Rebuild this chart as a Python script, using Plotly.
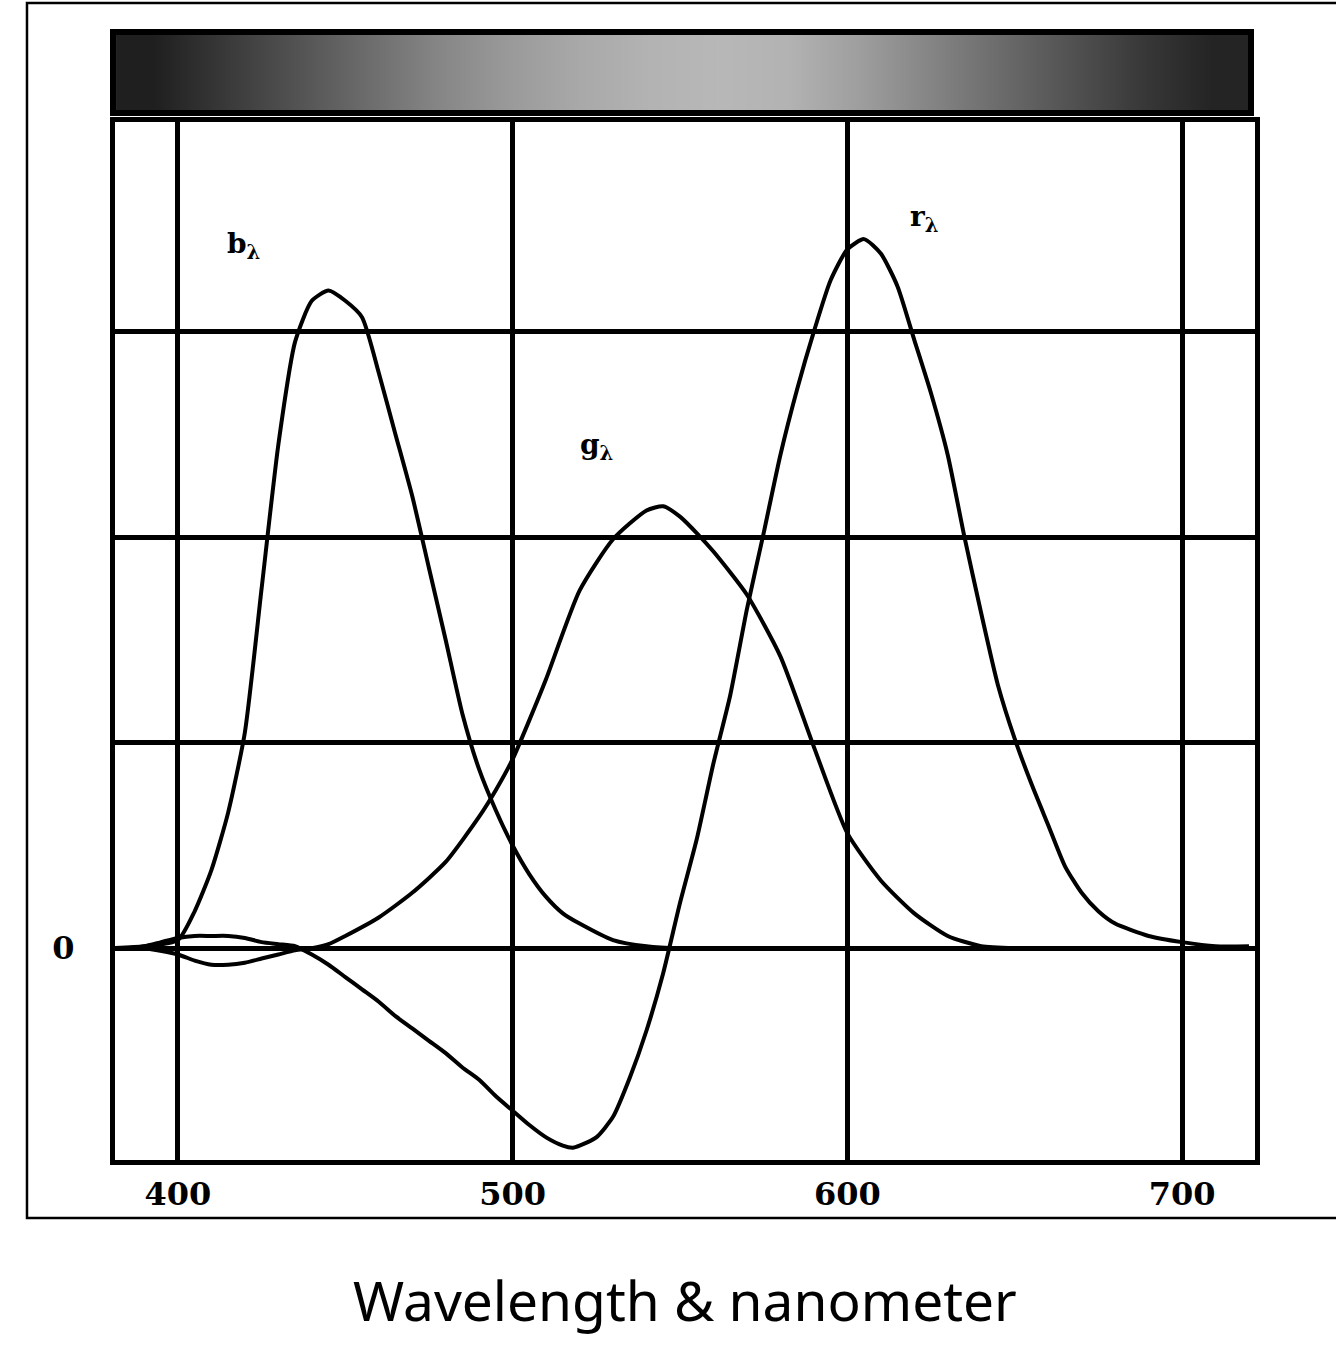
import plotly.graph_objects as go

# ---------------- data ----------------
wavelength_b = [380, 390, 400, 405, 410, 415, 420, 425, 430, 435, 440, 445, 450, 455, 460, 465,
                470, 475, 480, 485, 490, 495, 500, 505, 510, 515, 520, 530, 540, 550, 600, 650, 720]
b_lambda = [0.0, 0.01, 0.04, 0.18, 0.38, 0.66, 1.05, 1.75, 2.45, 2.95, 3.15, 3.2, 3.15, 3.07, 2.8, 2.5,
            2.2, 1.85, 1.5, 1.14, 0.87, 0.67, 0.5, 0.36, 0.25, 0.17, 0.12, 0.04, 0.01, 0.0, 0.0, 0.0, 0.0]

wavelength_g = [380, 390, 400, 405, 410, 415, 420, 425, 430, 435, 440, 445, 450, 460, 470, 480, 490,
                495, 500, 505, 510, 520, 530, 540, 545, 550, 555, 560, 570, 580, 590, 600, 610, 620,
                630, 640, 650, 720]
g_lambda = [0.0, 0.0, -0.03, -0.06, -0.08, -0.08, -0.07, -0.05, -0.03, -0.01, 0.0, 0.02, 0.06, 0.15,
            0.27, 0.42, 0.64, 0.77, 0.92, 1.11, 1.31, 1.74, 1.99, 2.13, 2.15, 2.1, 2.02, 1.93, 1.72, 1.42,
            0.98, 0.56, 0.33, 0.17, 0.06, 0.01, 0.0, 0.0]

wavelength_r = [380, 385, 390, 395, 400, 405, 410, 415, 420, 425, 430, 435, 440, 445, 450, 455, 460,
                465, 470, 475, 480, 485, 490, 495, 500, 505, 510, 515, 518, 520, 525, 530, 535, 540,
                545, 550, 555, 560, 565, 570, 575, 580, 585, 590, 595, 600, 605, 610, 615, 620, 625,
                630, 635, 640, 645, 650, 655, 660, 665, 670, 675, 680, 690, 700, 710, 720]
r_lambda = [0.0, 0.0, 0.01, 0.03, 0.05, 0.06, 0.06, 0.06, 0.05, 0.03, 0.02, 0.01, -0.03, -0.08, -0.14,
            -0.2, -0.26, -0.33, -0.39, -0.45, -0.51, -0.58, -0.64, -0.72, -0.79, -0.86, -0.92, -0.96,
            -0.97, -0.96, -0.92, -0.82, -0.63, -0.4, -0.12, 0.22, 0.53, 0.9, 1.23, 1.65, 2.02, 2.4,
            2.72, 3.0, 3.25, 3.4, 3.45, 3.38, 3.22, 2.96, 2.7, 2.4, 2.0, 1.63, 1.28, 1.02, 0.8, 0.6,
            0.4, 0.27, 0.18, 0.12, 0.06, 0.03, 0.01, 0.01]

x_tick_vals = [400, 500, 600, 700]
x_tick_text = ["400", "500", "600", "700"]
y_tick_vals = [0, 1, 2, 3]
y_tick_text = ["0", "", "", ""]

curve_labels = ["b<sub>λ</sub>", "g<sub>λ</sub>", "r<sub>λ</sub>"]
label_x = [419.5, 525.0, 623.0]
label_y = [3.42, 2.44, 3.55]

# grey levels of the spectrum strip (0 = black, 1 = white)
strip_positions = [0, 1, 2, 3, 4, 5, 6, 7, 8, 9, 10, 11, 12, 13, 14, 15]
strip_grey = [0.12, 0.22, 0.32, 0.42, 0.52, 0.6, 0.66, 0.7, 0.72, 0.7, 0.62, 0.52, 0.42, 0.32, 0.22, 0.14]

axis_title = "Wavelength & nanometer"

# ---------------- figure ----------------
fig = go.Figure()

line_style = dict(color="black", width=4, shape="spline", smoothing=0.6)
fig.add_trace(go.Scatter(x=wavelength_b, y=b_lambda, mode="lines", line=line_style,
                         showlegend=False, hoverinfo="skip"))
fig.add_trace(go.Scatter(x=wavelength_g, y=g_lambda, mode="lines", line=line_style,
                         showlegend=False, hoverinfo="skip"))
fig.add_trace(go.Scatter(x=wavelength_r, y=r_lambda, mode="lines", line=line_style,
                         showlegend=False, hoverinfo="skip"))

fig.add_trace(go.Heatmap(x=strip_positions, y=[0], z=[strip_grey], xaxis="x2", yaxis="y2",
                         colorscale=[[0, "black"], [1, "white"]], zmin=0, zmax=1,
                         showscale=False, zsmooth="best", hoverinfo="skip"))

for txt, lx, ly in zip(curve_labels, label_x, label_y):
    fig.add_annotation(x=lx, y=ly, xref="x", yref="y", text=txt, showarrow=False,
                       font=dict(family="DejaVu Serif", size=28, color="black", weight="bold"))

fig.add_annotation(x=0.5, y=-0.1244, xref="paper", yref="paper", text=axis_title,
                   showarrow=False, yanchor="middle",
                   font=dict(family="Noto Sans", size=55, color="black"))

# outer frame
fig.add_shape(type="rect", xref="paper", yref="paper", x0=-0.0772, x1=1.2, y0=-0.0516, y1=1.0285,
              line=dict(color="black", width=2.5), layer="below")

tick_font = dict(family="DejaVu Serif", size=32, color="black", weight="bold")

fig.update_layout(
    width=1336, height=1344,
    margin=dict(l=115, r=81, t=35, b=184),
    paper_bgcolor="white", plot_bgcolor="white",
    xaxis=dict(range=[381.2, 721.8], tickvals=x_tick_vals, ticktext=x_tick_text,
               showgrid=True, gridcolor="black", gridwidth=5, zeroline=False,
               showline=True, linecolor="black", linewidth=5, mirror=True,
               ticks="", ticklabelstandoff=2, tickfont=tick_font, domain=[0, 1]),
    yaxis=dict(range=[-1.03, 4.02], tickvals=y_tick_vals, ticktext=y_tick_text,
               showgrid=True, gridcolor="black", gridwidth=5, zeroline=False,
               showline=True, linecolor="black", linewidth=5, mirror=True,
               ticks="", ticklabelstandoff=29, tickfont=tick_font,
               domain=[0, 0.9227]),
    xaxis2=dict(domain=[0.0009, 0.9939], range=[-0.5, 15.5], showticklabels=False,
                showgrid=False, zeroline=False, showline=True, linecolor="black",
                linewidth=6, mirror=True, ticks="", anchor="y2"),
    yaxis2=dict(domain=[0.9333, 1.0], range=[-0.5, 0.5], showticklabels=False,
                showgrid=False, zeroline=False, showline=True, linecolor="black",
                linewidth=6, mirror=True, ticks="", anchor="x2"),
)

fig.write_html("out.html", config={"displayModeBar": False},
               post_script="document.body.style.margin='0px';document.body.style.overflow='hidden';")
